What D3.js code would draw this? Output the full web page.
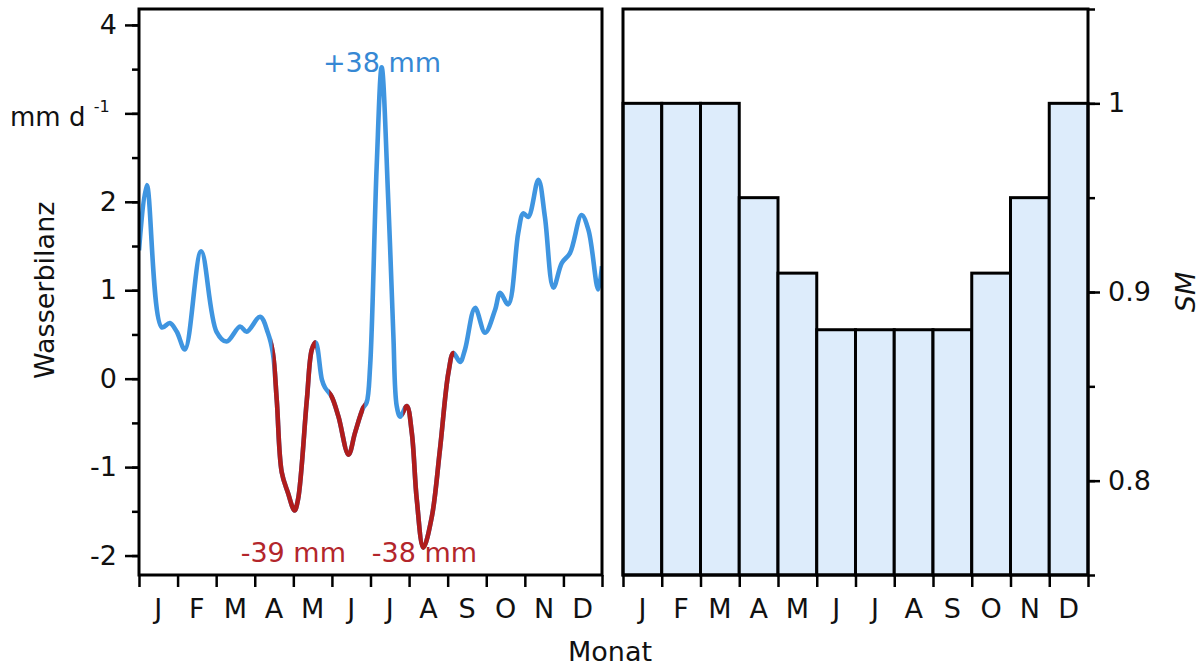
<!DOCTYPE html>
<html>
<head>
<meta charset="utf-8">
<script src="https://cdn.jsdelivr.net/npm/d3@7"></script>
<style>
  body { margin: 0; background: #fff; }
  svg text { font-family: "DejaVu Sans", sans-serif; fill: #111; }
</style>
</head>
<body>
<div class="chart"></div>
<script>
// data
const months = ["J", "F", "M", "A", "M", "J", "J", "A", "S", "O", "N", "D"]

// water balance curve: [month (0-12), mm per day]
const balance = [
  [0.00, 1.45], [0.20, 2.19], [0.59, 0.58], [0.80, 0.63], [0.98, 0.53],
  [1.19, 0.33], [1.61, 1.44], [2.01, 0.53], [2.27, 0.42], [2.62, 0.59],
  [2.79, 0.53], [3.14, 0.70], [3.34, 0.52], [3.47, 0.29], [3.57, -0.24],
  [3.70, -1.06], [3.86, -1.29], [4.03, -1.49], [4.12, -1.37], [4.35, -0.24],
  [4.48, 0.33], [4.58, 0.41], [4.74, -0.01], [4.82, -0.10], [4.99, -0.20],
  [5.17, -0.43], [5.43, -0.86], [5.60, -0.61], [5.81, -0.33], [5.90, -0.27],
  [5.99, 0.14], [6.16, 2.40], [6.29, 3.52], [6.46, 2.02], [6.59, 0.52],
  [6.68, -0.31], [6.77, -0.43], [6.94, -0.31], [7.07, -0.61], [7.20, -1.37],
  [7.37, -1.91], [7.59, -1.56], [7.80, -0.80], [8.02, 0.07], [8.15, 0.29],
  [8.32, 0.19], [8.45, 0.33], [8.71, 0.80], [8.97, 0.52], [9.23, 0.78],
  [9.36, 0.97], [9.57, 0.84], [9.83, 1.65], [9.96, 1.87], [10.09, 1.83],
  [10.35, 2.25], [10.52, 1.83], [10.74, 1.03], [10.96, 1.31], [11.17, 1.42],
  [11.47, 1.85], [11.65, 1.68], [11.90, 1.01], [12.00, 1.27]
]

// periods drawn in red (deficit), in months
const deficits = [[3.46, 4.58], [4.93, 5.84], [6.85, 8.17]]

// annotations: [month, value, text, kind]
const notes = [
  [6.3, 3.47, "+38 mm", "wet"],
  [4.0, -2.07, "-39 mm", "dry"],
  [7.4, -2.07, "-38 mm", "dry"]
]

// monthly SM
const sm = [1.0, 1.0, 1.0, 0.95, 0.91, 0.88, 0.88, 0.88, 0.88, 0.91, 0.95, 1.0]

const leftTicks = [-2, -1, 0, 1, 2, 4]
const smTicks = [0.8, 0.9, 1]

const W = 1203, H = 668
const yTop = 9, yBot = 575
const L = {x0: 139, x1: 602}
const R = {x0: 623, x1: 1088}
const blue = "#3f95e0", red = "#b01c1c"

const svg = d3.select(".chart")
  .append("svg")
    .attr("width", W)
    .attr("height", H)

// ---------- left panel: Wasserbilanz ----------
const xL = d3.scaleLinear().domain([0, 12]).range([L.x0, L.x1])
const yL = d3.scaleLinear().domain([-2.22, 4.18]).range([yBot, yTop])

const line = d3.line()
  .x(d => xL(d[0]))
  .y(d => yL(d[1]))
  .curve(d3.curveCatmullRom.alpha(0.5))

const defs = svg.append("defs")
defs.append("clipPath").attr("id", "dry")
  .selectAll("rect")
  .data(deficits)
  .join("rect")
    .attr("x", d => xL(d[0]))
    .attr("width", d => xL(d[1]) - xL(d[0]))
    .attr("y", yTop)
    .attr("height", yBot - yTop)
defs.append("clipPath").attr("id", "panelL")
  .append("rect")
    .attr("x", L.x0).attr("y", yTop)
    .attr("width", L.x1 - L.x0).attr("height", yBot - yTop)

svg.append("g")
  .selectAll("text")
  .data(notes)
  .join("text")
    .attr("x", d => xL(d[0]))
    .attr("y", d => yL(d[1]))
    .attr("text-anchor", "middle")
    .attr("font-size", 27)
    .style("fill", d => d[3] == "wet" ? "#3688d4" : "#b3262b")
    .text(d => d[2])

svg.append("path")
  .datum(balance)
  .attr("d", line)
  .attr("fill", "none")
  .attr("stroke", blue)
  .attr("stroke-width", 4.6)
  .attr("stroke-linejoin", "round")
  .attr("clip-path", "url(#panelL)")

svg.append("path")
  .datum(balance)
  .attr("d", line)
  .attr("fill", "none")
  .attr("stroke", red)
  .attr("stroke-width", 4.6)
  .attr("stroke-linejoin", "round")
  .attr("clip-path", "url(#dry)")

// left y axis: major + minor ticks
const gyL = svg.append("g")
  .attr("transform", `translate(${L.x0},0)`)
  .call(d3.axisLeft(yL).tickValues(d3.range(-2, 4.01, 0.5)).tickSize(7).tickFormat(""))
gyL.select(".domain").remove()
gyL.selectAll("line").attr("stroke-width", 2.5)

const gyL2 = svg.append("g")
  .attr("transform", `translate(${L.x0},0)`)
  .call(d3.axisLeft(yL).tickValues(leftTicks.concat([3])).tickSize(14).tickPadding(8)
    .tickFormat(d => d == 3 ? "" : d))
gyL2.select(".domain").remove()
gyL2.selectAll("line").attr("stroke-width", 2.5)
gyL2.selectAll("text").attr("font-size", 27).style("font-family", "DejaVu Sans")

const unit = svg.append("text")
  .attr("x", 10)
  .attr("y", yL(3) + 13)
  .attr("font-size", 26)
unit.append("tspan").text("mm d ")
unit.append("tspan").attr("font-size", 16).attr("dy", -14).text("-1")

svg.append("text")
  .attr("transform", `translate(54,${yL(1)}) rotate(-90)`)
  .attr("text-anchor", "middle")
  .attr("font-size", 27)
  .text("Wasserbilanz")

// ---------- right panel: SM bars ----------
const xR = d3.scaleBand().domain(d3.range(12)).range([R.x0, R.x1]).padding(0)
const yR = d3.scaleLinear().domain([0.75, 1.05]).range([yBot, yTop])

svg.append("g")
  .selectAll("rect")
  .data(sm)
  .join("rect")
    .attr("x", (d, i) => xR(i))
    .attr("y", d => yR(d))
    .attr("width", xR.bandwidth())
    .attr("height", d => yBot - yR(d))
    .attr("fill", "#ddecfb")
    .attr("stroke", "#000")
    .attr("stroke-width", 3)

const gyR = svg.append("g")
  .attr("transform", `translate(${R.x1},0)`)
  .call(d3.axisRight(yR).tickValues(d3.range(0.75, 1.051, 0.05)).tickSize(7).tickFormat(""))
gyR.select(".domain").remove()
gyR.selectAll("line").attr("stroke-width", 2.5)

const gyR2 = svg.append("g")
  .attr("transform", `translate(${R.x1},0)`)
  .call(d3.axisRight(yR).tickValues(smTicks).tickSize(12).tickPadding(8).tickFormat(d3.format("")))
gyR2.select(".domain").remove()
gyR2.selectAll("line").attr("stroke-width", 2.5)
gyR2.selectAll("text").attr("font-size", 27).style("font-family", "DejaVu Sans")

svg.append("text")
  .attr("transform", `translate(1195,${yR(0.9)}) rotate(-90)`)
  .attr("text-anchor", "middle")
  .attr("font-size", 27)
  .attr("font-style", "italic")
  .text("SM")

// ---------- month axes and frames ----------
;[[L, d3.scaleLinear().domain([0, 12]).range([L.x0, L.x1])],
  [R, d3.scaleLinear().domain([0, 12]).range([R.x0, R.x1])]].forEach(([p, x]) => {
  const gx = svg.append("g")
    .attr("transform", `translate(0,${yBot})`)
    .call(d3.axisBottom(x).tickValues(d3.range(13)).tickSize(12).tickFormat(""))
  gx.select(".domain").remove()
  gx.selectAll("line").attr("stroke-width", 2.5)

  svg.append("g")
    .selectAll("text")
    .data(months)
    .join("text")
      .attr("x", (d, i) => x(i + 0.5))
      .attr("y", 618)
      .attr("text-anchor", "middle")
      .attr("font-size", 27)
      .text(d => d)

  svg.append("rect")
    .attr("x", p.x0).attr("y", yTop)
    .attr("width", p.x1 - p.x0).attr("height", yBot - yTop)
    .attr("fill", "none")
    .attr("stroke", "#000")
    .attr("stroke-width", 3)
})

svg.append("text")
  .attr("x", 610)
  .attr("y", 661)
  .attr("text-anchor", "middle")
  .attr("font-size", 27)
  .text("Monat")
</script>
</body>
</html>
